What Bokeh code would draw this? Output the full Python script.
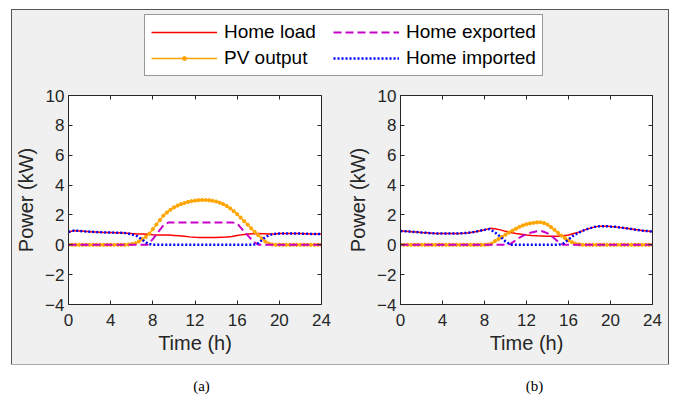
from bokeh.plotting import figure
from bokeh.models import (ColumnDataSource, Range1d, LinearAxis, FixedTicker,
                          Legend, LegendItem, Label)
from bokeh.layouts import column, row
from bokeh.embed import file_html
from bokeh.resources import INLINE

# ---------------- data ----------------
# half-hourly time base (load, exported, imported)
hours = [0, 0.5, 1, 1.5, 2, 2.5, 3, 3.5, 4, 4.5, 5, 5.5, 6, 6.5, 7, 7.5, 8, 8.5,
         9, 9.5, 10, 10.5, 11, 11.5, 12, 12.5, 13, 13.5, 14, 14.5, 15, 15.5, 16,
         16.5, 17, 17.5, 18, 18.5, 19, 19.5, 20, 20.5, 21, 21.5, 22, 22.5, 23,
         23.5, 24]
# 20-minute time base (PV output, drawn with markers)
pv_hours = [0, 1/3, 2/3, 1, 4/3, 5/3, 2, 7/3, 8/3, 3, 10/3, 11/3, 4, 13/3, 14/3,
            5, 16/3, 17/3, 6, 19/3, 20/3, 7, 22/3, 23/3, 8, 25/3, 26/3, 9,
            28/3, 29/3, 10, 31/3, 32/3, 11, 34/3, 35/3, 12, 37/3, 38/3, 13,
            40/3, 41/3, 14, 43/3, 44/3, 15, 46/3, 47/3, 16, 49/3, 50/3, 17,
            52/3, 53/3, 18, 55/3, 56/3, 19, 58/3, 59/3, 20, 61/3, 62/3, 21,
            64/3, 65/3, 22, 67/3, 68/3, 23, 70/3, 71/3, 24]
x_ticks = [0, 4, 8, 12, 16, 20, 24]
y_ticks = [-4, -2, 0, 2, 4, 6, 8, 10]
series_names = ["Home load", "PV output", "Home exported", "Home imported"]
panel_labels = ["(a)", "(b)"]

# panel (a)
load_a = [0.85, 0.95, 0.93, 0.90, 0.88, 0.86, 0.84, 0.83, 0.82, 0.81, 0.80, 0.78,
          0.75, 0.73, 0.72, 0.70, 0.67, 0.65, 0.65, 0.65, 0.63, 0.60, 0.57, 0.53,
          0.50, 0.48, 0.48, 0.48, 0.48, 0.50, 0.52, 0.56, 0.62, 0.68, 0.72, 0.74,
          0.75, 0.74, 0.72, 0.73, 0.75, 0.76, 0.76, 0.75, 0.75, 0.74, 0.73, 0.72,
          0.72]
pv_a = [0, 0, 0, 0, 0, 0, 0, 0, 0, 0, 0, 0, 0, 0, 0, 0, 0,
        0.02, 0.05, 0.10, 0.22, 0.38, 0.53, 0.75, 1.05, 1.35, 1.65, 1.95, 2.16,
        2.34, 2.50, 2.62, 2.72, 2.80, 2.87, 2.92, 2.96, 2.99, 3.00, 3.00, 2.98,
        2.95, 2.90, 2.82, 2.73, 2.60, 2.44, 2.25, 2.05, 1.82, 1.58, 1.35, 1.10,
        0.86, 0.65, 0.43, 0.22, 0.08, 0.02,
        0, 0, 0, 0, 0, 0, 0, 0, 0, 0, 0, 0, 0, 0]
exported_a = [0, 0, 0, 0, 0, 0, 0, 0, 0, 0, 0, 0, 0, 0, 0, 0,
              0.38, 0.85, 1.30, 1.50, 1.50, 1.50, 1.50, 1.50, 1.50, 1.50, 1.50,
              1.50, 1.50, 1.50, 1.50, 1.50, 1.43, 1.02, 0.63, 0.24,
              0, 0, 0, 0, 0, 0, 0, 0, 0, 0, 0, 0, 0]
imported_a = [0.85, 0.95, 0.93, 0.90, 0.88, 0.86, 0.84, 0.83, 0.82, 0.81, 0.80,
              0.78, 0.70, 0.58, 0.34, 0.08,
              0, 0, 0, 0, 0, 0, 0, 0, 0, 0, 0, 0, 0, 0, 0, 0, 0, 0, 0, 0,
              0.10, 0.42, 0.64, 0.73, 0.75, 0.76, 0.76, 0.75, 0.75, 0.74, 0.73,
              0.72, 0.72]

# panel (b)
load_b = [0.92, 0.90, 0.88, 0.85, 0.82, 0.80, 0.77, 0.76, 0.75, 0.75, 0.75, 0.76,
          0.78, 0.81, 0.86, 0.93, 1.00, 1.10, 1.08, 1.00, 0.90, 0.82, 0.75, 0.70,
          0.65, 0.62, 0.60, 0.59, 0.58, 0.58, 0.58, 0.60, 0.65, 0.75, 0.85, 0.98,
          1.10, 1.20, 1.25, 1.25, 1.22, 1.20, 1.15, 1.10, 1.05, 1.00, 0.95, 0.92,
          0.88]
pv_b = [0, 0, 0, 0, 0, 0, 0, 0, 0, 0, 0, 0, 0, 0, 0, 0, 0, 0, 0, 0, 0, 0, 0, 0,
        0, 0.02, 0.08, 0.25, 0.38, 0.52, 0.68, 0.82, 0.95, 1.08, 1.20, 1.30,
        1.38, 1.43, 1.47, 1.50, 1.51, 1.46, 1.35, 1.18, 1.00, 0.80, 0.61, 0.44,
        0.30, 0.17, 0.08, 0.03,
        0, 0, 0, 0, 0, 0, 0, 0, 0, 0, 0, 0, 0, 0, 0, 0, 0, 0, 0, 0, 0]
exported_b = [0, 0, 0, 0, 0, 0, 0, 0, 0, 0, 0, 0, 0, 0, 0, 0, 0, 0, 0, 0, 0,
              0.06, 0.33, 0.55, 0.73, 0.83, 0.90, 0.91, 0.77, 0.52, 0.22,
              0, 0, 0, 0, 0, 0, 0, 0, 0, 0, 0, 0, 0, 0, 0, 0, 0, 0]
imported_b = [0.92, 0.90, 0.88, 0.85, 0.82, 0.80, 0.77, 0.76, 0.75, 0.75, 0.75,
              0.76, 0.78, 0.81, 0.86, 0.93, 1.00,
              1.05, 0.83, 0.55, 0.22, 0,
              0, 0, 0, 0, 0, 0, 0, 0, 0,
              0.08, 0.35, 0.63, 0.82, 0.98, 1.10,
              1.20, 1.25, 1.25, 1.22, 1.20, 1.15, 1.10, 1.05, 1.00, 0.95, 0.92,
              0.88]

# ---------------- style ----------------
GRAY = "#F0F0F0"
AXC = "#262626"
RED = "#FF0000"
ORANGE = "#FFA500"
MAGENTA = "#C800C8"
BLUE = "#0000FF"
FONT = "Liberation Sans"


def style_axis(ax, ticks, label=None):
    ax.ticker = FixedTicker(ticks=ticks)
    ax.axis_line_color = AXC
    ax.major_tick_line_color = AXC
    ax.major_tick_in = 4
    ax.major_tick_out = 0
    ax.minor_tick_line_color = None
    if label is None:
        ax.major_label_text_font_size = "1px"
        ax.major_label_text_color = None
        ax.major_label_standoff = 0
    else:
        ax.axis_label = label
        ax.axis_label_text_font = FONT
        ax.axis_label_text_font_size = "20px"
        ax.axis_label_text_font_style = "normal"
        ax.axis_label_text_color = AXC
        ax.major_label_text_font = FONT
        ax.major_label_text_font_size = "17px"
        ax.major_label_text_color = AXC


def make_panel(load, pv, exp, imp, left, right):
    p = figure(width=328, height=279,
               min_border_left=left, min_border_right=right,
               min_border_top=10, min_border_bottom=60,
               x_range=Range1d(0, 24), y_range=Range1d(-4, 10),
               output_backend="svg", toolbar_location=None,
               border_fill_color=GRAY, background_fill_color="white",
               outline_line_color=None)
    p.grid.visible = False
    src = ColumnDataSource(dict(t=hours, load=load, exp=exp, imp=imp))
    psrc = ColumnDataSource(dict(t=pv_hours, pv=pv))
    p.line("t", "load", source=src, line_color=RED, line_width=1.5)
    p.line("t", "pv", source=psrc, line_color=ORANGE, line_width=1.3)
    p.scatter("t", "pv", source=psrc, size=3.2, fill_color=ORANGE,
              line_color=ORANGE)
    p.line("t", "exp", source=src, line_color=MAGENTA, line_width=2,
           line_dash="8 4")
    p.line("t", "imp", source=src, line_color=BLUE, line_width=2.5,
           line_dash="2 2")
    style_axis(p.xaxis[0], x_ticks, "Time (h)")
    p.xaxis[0].major_label_standoff = 9
    p.xaxis[0].axis_label_standoff = 3
    style_axis(p.yaxis[0], y_ticks, "Power (kW)")
    p.yaxis[0].major_label_standoff = 4
    p.yaxis[0].axis_label_standoff = 5
    top = LinearAxis()
    style_axis(top, x_ticks)
    right_ax = LinearAxis()
    style_axis(right_ax, y_ticks)
    p.add_layout(top, "above")
    p.add_layout(right_ax, "right")
    return p


fa = make_panel(load_a, pv_a, exported_a, imported_a, 56, 19)
fb = make_panel(load_b, pv_b, exported_b, imported_b, 60, 16)

# ---------------- legend strip ----------------
lg = figure(width=656, height=75, min_border=0, x_axis_type=None,
            y_axis_type=None, toolbar_location=None, output_backend="svg",
            border_fill_color=GRAY, background_fill_color=GRAY,
            outline_line_color=None, x_range=Range1d(0, 1),
            y_range=Range1d(0, 1))
lg.grid.visible = False
dummy = ColumnDataSource(dict(x=[-5, -4], y=[-5, -4]))
r1 = lg.line("x", "y", source=dummy, line_color=RED, line_width=1.5)
r2 = lg.line("x", "y", source=dummy, line_color=ORANGE, line_width=1.3)
r2s = lg.scatter("x", "y", source=dummy, size=3.6, fill_color=ORANGE,
                 line_color=ORANGE)
r3 = lg.line("x", "y", source=dummy, line_color=MAGENTA, line_width=2,
             line_dash="8 4")
r4 = lg.line("x", "y", source=dummy, line_color=BLUE, line_width=2.5,
             line_dash="2 2")
legend = Legend(items=[LegendItem(label=series_names[0], renderers=[r1]),
                       LegendItem(label=series_names[1], renderers=[r2, r2s]),
                       LegendItem(label=series_names[2], renderers=[r3]),
                       LegendItem(label=series_names[3], renderers=[r4])],
                location=(132, 9), nrows=2, glyph_width=66, glyph_height=10,
                label_height=21, label_width=105, label_text_font=FONT,
                label_text_font_size="19px", label_text_color="black",
                label_standoff=7, padding=6, spacing=4, margin=0,
                border_line_color="#333333", border_line_width=1,
                background_fill_color="white", background_fill_alpha=1)
lg.add_layout(legend, "center")

# ---------------- captions ----------------
cap = figure(width=675, height=35, min_border=0, x_axis_type=None,
             y_axis_type=None, toolbar_location=None, output_backend="svg",
             border_fill_color="white", background_fill_color="white",
             outline_line_color=None, x_range=Range1d(0, 675),
             y_range=Range1d(0, 35))
cap.grid.visible = False
for lab, xpos in zip(panel_labels, [201, 534]):
    cap.add_layout(Label(x=xpos, y=14, text=lab, text_align="center",
                         text_baseline="middle",
                         text_font="Liberation Serif",
                         text_font_size="15px", text_color="black"))

box = column(lg, row(fa, fb, spacing=0), spacing=0, margin=(10, 0, 0, 12),
             styles={"outline": "1px solid #555555",
                     "background-color": GRAY})
layout = column(box, cap, spacing=0)

open("out.html", "w").write(file_html(layout, INLINE))
